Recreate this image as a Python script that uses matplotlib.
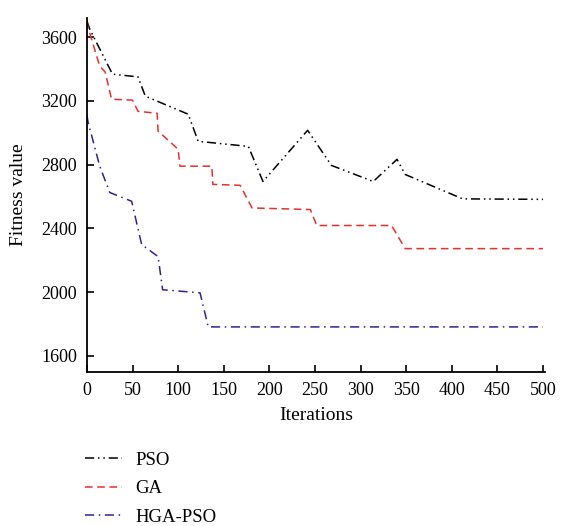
import matplotlib
matplotlib.use('Agg')
import matplotlib.pyplot as plt

# PSO
pso_x = [0, 3, 28, 56, 64, 111, 122, 177, 193, 242, 268, 314, 340, 349, 412, 500]
pso_y = [3700, 3650, 3367, 3350, 3229, 3116, 2946, 2914, 2694, 3015, 2795, 2694, 2833, 2738, 2585, 2582]
# GA
ga_x = [0, 1, 14, 20, 27, 50, 56, 77, 78, 100, 102, 137, 138, 168, 181, 245, 252, 334, 349, 500]
ga_y = [3700, 3663, 3418, 3380, 3210, 3204, 3134, 3122, 3010, 2896, 2790, 2790, 2676, 2670, 2528, 2518, 2418, 2418, 2273, 2273]
# HGA-PSO
hga_x = [0, 1, 14, 25, 49, 60, 78, 83, 124, 133, 500]
hga_y = [3110, 3072, 2790, 2625, 2570, 2298, 2223, 2015, 1996, 1782, 1782]

plt.rcParams['font.family'] = ['Liberation Serif', 'DejaVu Serif']

fig = plt.figure(figsize=(5.61, 5.26), dpi=100)
ax = fig.add_axes([0.155, 0.293, 0.816, 0.673])

ax.plot(pso_x, pso_y, color='black', linewidth=1.1, linestyle=(0, (6, 2.5, 1, 2.5, 1, 2.5)), label='PSO')
ax.plot(ga_x, ga_y, color='#e8302a', linewidth=1.1, linestyle=(0, (5, 3)), label='GA')
ax.plot(hga_x, hga_y, color='#2e2390', linewidth=1.1, linestyle=(0, (6, 3, 1, 3)), label='HGA-PSO')

ax.set_xlim(0, 502)
ax.set_ylim(1500, 3720)
ax.set_xticks(range(0, 501, 50))
ax.set_yticks(range(1600, 3601, 400))
ax.spines['top'].set_visible(False)
ax.spines['right'].set_visible(False)
ax.tick_params(direction='in', labelsize=13, length=5, width=1.2, pad=7)
for s in ['left', 'bottom']:
    ax.spines[s].set_linewidth(1.3)
ax.set_xlabel('Iterations', fontsize=14, labelpad=6)
ax.set_ylabel('Fitness value', fontsize=14, labelpad=10)

h, l = ax.get_legend_handles_labels()
fig.legend(h, l, loc='upper left', bbox_to_anchor=(0.1515, 0.141), frameon=False,
           fontsize=13.5, handlelength=2.0, labelspacing=0.6, handletextpad=0.7,
           borderpad=0, borderaxespad=0)

fig.savefig('out.png', dpi=100)
